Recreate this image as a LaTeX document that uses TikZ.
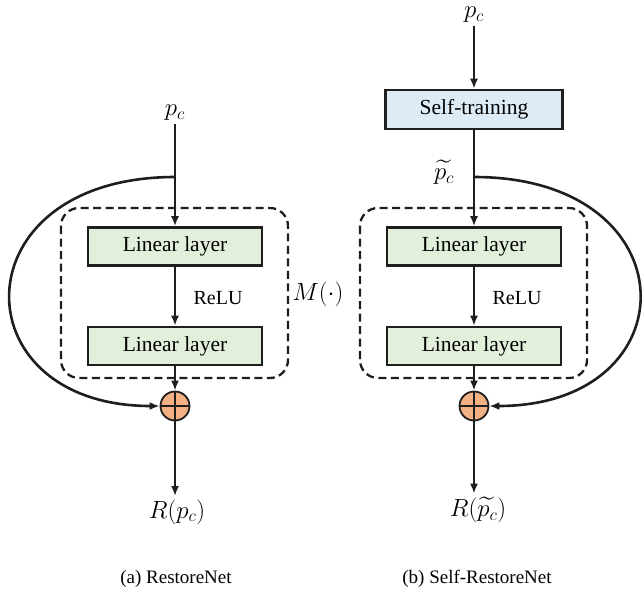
\documentclass[tikz,border=0pt]{standalone}
\usepackage{amsmath}
\usepackage{amssymb}
\usepackage{fontspec}
\setmainfont{Liberation Serif}
\usepackage{tikz}
\usetikzlibrary{positioning,arrows.meta}

\definecolor{layergreen}{HTML}{E2EFDA}
\definecolor{trainblue}{HTML}{DDEBF7}
\definecolor{addorange}{HTML}{F4B183}
\definecolor{linegray}{HTML}{1E1E1E}

\tikzset{
  flow/.style = {draw = linegray, line width = 2.6pt, -{Latex[length = 10pt, width = 8pt]}},
  layer/.style = {draw = linegray, line width = 2.6pt, fill = layergreen, minimum width = 174pt,
    minimum height = 38pt, inner sep = 0pt, font = \fontsize{21.5}{24}\selectfont},
  trainbox/.style = {layer, fill = trainblue, minimum width = 177pt, minimum height = 39pt},
  addnode/.style = {circle, draw = linegray, line width = 1.8pt, fill = addorange, minimum size = 29pt,
    inner sep = 0pt, path picture = {
      \draw[line width = 1.5pt, linegray] (path picture bounding box.north) -- (path picture bounding box.south)
        (path picture bounding box.west) -- (path picture bounding box.east);}},
  block/.style = {draw = linegray, line width = 2.3pt, dash pattern = on 8pt off 4.5pt, rounded corners = 18pt},
  mathlbl/.style = {font = \fontsize{27}{30}\selectfont},
  actlbl/.style = {font = \fontsize{20}{24}\selectfont},
  caption/.style = {font = \fontsize{19}{22}\selectfont}
}

\begin{document}
\begin{tikzpicture}[x = 1pt, y = -1pt]
  \useasboundingbox (0, 0) rectangle (644, 592);

  % (a) RestoreNet
  \node[mathlbl] (pcA) at (175, 113) {$p_c$};
  \coordinate (splitA) at (175, 177);
  \node[layer] (linA1) at (175, 246.5) {Linear layer};
  \node[layer] (linA2) at (175, 346) {Linear layer};
  \node[addnode] (addA) at (175, 406) {};
  \node[mathlbl] (outA) at (177, 512) {$R(p_c)$};
  \node[actlbl] (reluA) at (218, 298) {ReLU};
  \draw[block] (61, 208) rectangle (288, 378);
  \node[mathlbl] (mlbl) at (318, 294) {$M(\cdot)$};

  \draw[flow] (pcA) -- (linA1);
  \draw[flow] (linA1) -- (linA2);
  \draw[flow] (linA2) -- (addA);
  \draw[flow] (addA) -- (addA |- outA.north);
  \draw[flow] (splitA) .. controls (-42, 177) and (-42, 406) .. (addA.west);

  \node[caption] (capA) at (176, 579) {(a) RestoreNet};

  % (b) Self-RestoreNet
  \node[mathlbl] (pcB) at (474, 15) {$p_c$};
  \node[trainbox] (train) at (474, 109.5) {Self-training};
  \coordinate (splitB) at (474, 177);
  \node[mathlbl] (ptB) at (444, 172) {$\widetilde{p_c}$};
  \node[layer] (linB1) at (474, 246.5) {Linear layer};
  \node[layer] (linB2) at (474, 346) {Linear layer};
  \node[addnode] (addB) at (474, 406) {};
  \node[mathlbl] (outB) at (478, 510) {$R(\widetilde{p_c})$};
  \node[actlbl] (reluB) at (517, 298) {ReLU};
  \draw[block] (360, 208) rectangle (587, 378);

  \draw[flow] (pcB) -- (train);
  \draw[flow] (train) -- (linB1);
  \draw[flow] (linB1) -- (linB2);
  \draw[flow] (linB2) -- (addB);
  \draw[flow] (addB) -- (addB |- outB.north);
  \draw[flow] (splitB) .. controls (692, 177) and (692, 406) .. (addB.east);

  \node[caption] (capB) at (477, 579) {(b) Self-RestoreNet};
\end{tikzpicture}
\end{document}
